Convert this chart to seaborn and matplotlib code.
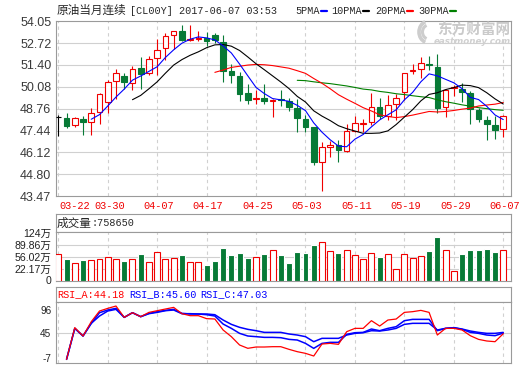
import numpy as np
import pandas as pd
import matplotlib
matplotlib.use("Agg")
import matplotlib.pyplot as plt
from matplotlib.lines import Line2D
from matplotlib.colors import to_rgb
from matplotlib.patches import Arc
import matplotlib.transforms as mtransforms
import seaborn as sns

# ---------------- data ----------------
tick_labels = ["03-22", "03-30", "04-07", "04-17", "04-25",
               "05-03", "05-11", "05-19", "05-29", "06-07"]

open_ = [48.25, 48.19, 47.78, 48.13, 47.98, 48.53, 49.15, 50.42, 50.72, 50.28,
         51.23, 50.93, 51.81, 52.42, 53.18, 53.46, 52.90, 52.98, 53.02, 53.22,
         52.78, 51.04, 50.74, 49.70, 49.32, 49.39, 49.25, 49.36, 49.24, 48.79,
         48.13, 47.66, 45.57, 46.43, 46.57, 46.23, 47.44, 47.86, 47.94, 48.85,
         48.29, 49.03, 49.76, 51.05, 51.15, 51.43, 51.27, 48.85, 50.02, 49.96,
         49.70, 48.65, 48.06, 47.78, 47.52]
high = [48.39, 48.49, 48.27, 48.33, 48.79, 49.68, 50.50, 51.15, 50.91, 51.35,
        51.89, 51.91, 52.96, 53.32, 53.46, 53.83, 53.83, 53.42, 53.38, 53.32,
        53.18, 51.44, 50.97, 50.26, 49.88, 50.26, 49.35, 49.90, 49.40, 49.35,
        48.39, 47.68, 46.77, 46.82, 46.88, 47.84, 48.29, 48.15, 49.70, 49.39,
        49.60, 49.64, 50.93, 51.47, 51.85, 51.95, 52.05, 49.96, 50.16, 50.30,
        49.80, 48.79, 48.29, 48.29, 48.39]
low = [47.08, 47.62, 47.64, 47.14, 47.14, 47.86, 48.47, 49.33, 49.92, 49.90,
       49.92, 50.79, 50.81, 51.71, 52.35, 52.82, 52.82, 52.86, 52.57, 52.72,
       50.39, 50.29, 49.23, 49.07, 49.03, 49.03, 48.28, 48.90, 48.60, 47.38,
       47.38, 45.36, 43.81, 45.87, 45.57, 46.13, 47.38, 47.38, 47.78, 48.15,
       48.09, 48.09, 49.29, 50.85, 50.64, 51.07, 48.47, 48.23, 49.50, 49.19,
       47.84, 47.98, 46.84, 46.92, 47.04]
close = [48.25, 47.74, 48.19, 47.94, 48.47, 49.64, 50.36, 50.91, 50.34, 51.15,
         50.87, 51.77, 52.30, 53.14, 53.46, 52.88, 52.95, 53.02, 52.82, 52.88,
         51.06, 50.80, 49.67, 49.27, 49.38, 49.23, 49.29, 49.26, 48.84, 48.19,
         47.64, 45.57, 46.47, 46.55, 46.27, 47.42, 47.88, 47.90, 48.85, 48.33,
         48.97, 49.39, 50.91, 51.10, 51.51, 51.40, 48.79, 49.86, 50.06, 49.76,
         48.75, 48.13, 47.82, 47.46, 48.33]

volume_wan = [65.8, 49.4, 39.7, 46.5, 48.4, 51.3, 57.1, 51.3, 43.6, 51.3,
              63.9, 42.6, 71.6, 51.3, 54.2, 61.0, 42.6, 42.6, 32.0, 45.5,
              80.4, 61.0, 66.8, 52.3, 56.2, 63.9, 75.5, 61.0, 38.7, 69.7,
              67.8, 91.0, 98.8, 72.6, 67.8, 75.5, 61.0, 51.3, 66.8, 55.2,
              63.9, 22.2, 63.9, 54.2, 58.1, 72.6, 114.3, 75.5, 14.5, 63.9,
              75.5, 75.5, 78.4, 69.7, 75.865]

nan = np.nan
ma5 = [nan] * 4 + [
    48.12, 48.40, 48.92, 49.46, 49.94, 50.48, 50.73, 51.01, 51.29, 51.85,
    52.31, 52.71, 52.95, 53.09, 53.03, 52.91, 52.55, 52.12, 51.45, 50.74,
    50.04, 49.67, 49.37, 49.29, 49.20, 48.96, 48.64, 47.90, 47.34, 46.88,
    46.50, 46.46, 46.92, 47.20, 47.66, 48.08, 48.39, 48.69, 49.29, 49.74,
    50.38, 50.86, 50.74, 50.53, 50.32, 49.97, 49.44, 49.31, 48.90, 48.38,
    48.10]
ma10 = [nan] * 9 + [
    49.30, 49.56, 49.96, 50.38, 50.90, 51.39, 51.72, 51.98, 52.19, 52.44,
    52.61, 52.63, 52.53, 52.27, 51.88, 51.47, 51.11, 50.74, 50.37, 49.97,
    49.50, 49.16, 48.63, 48.31, 48.04, 47.73, 47.55, 47.41, 47.27, 47.27,
    47.29, 47.42, 47.80, 48.25, 48.70, 49.23, 49.62, 49.72, 49.91, 50.03,
    50.18, 50.15, 50.03, 49.72, 49.35, 49.04]
ma20 = [nan] * 19 + [
    50.95, 51.09, 51.25, 51.32, 51.39, 51.43, 51.41, 51.36, 51.28, 51.20,
    51.05, 50.89, 50.58, 50.29, 49.96, 49.60, 49.33, 49.08, 48.82, 48.62,
    48.39, 48.29, 48.22, 48.28, 48.37, 48.48, 48.59, 48.56, 48.59, 48.65,
    48.73, 48.79, 48.92, 48.98, 49.03, 49.13]
ma30 = [nan] * 29 + [
    50.47, 50.45, 50.38, 50.32, 50.27, 50.20, 50.13, 50.04, 49.94, 49.89,
    49.80, 49.74, 49.66, 49.61, 49.54, 49.48, 49.43, 49.29, 49.18, 49.09,
    48.99, 48.91, 48.82, 48.76, 48.70, 48.66]

rsi_a = [nan, -10.8, 57.2, 39.3, 70.0, 92.9, 98.6, 103.6, 79.3, 89.3,
         80.8, 90.0, 93.6, 97.2, 100.7, 87.2, 82.9, 82.9, 76.5, 75.8,
         52.2, 37.9, 20.0, 12.9, 15.7, 15.7, 16.4, 16.4, 10.7, 5.7,
         2.1, -3.6, 22.1, 23.5, 21.4, 48.6, 55.7, 55.7, 72.2, 60.7,
         73.6, 75.7, 90.0, 91.5, 94.3, 90.0, 41.4, 55.7, 55.7, 52.2,
         40.0, 32.1, 28.6, 27.1, 44.18]
rsi_b = [nan, -10.8, 55.7, 39.3, 66.5, 89.3, 95.1, 98.6, 79.3, 89.3,
         80.8, 87.9, 91.5, 94.3, 96.5, 87.9, 86.5, 86.5, 85.0, 82.2,
         65.0, 55.7, 45.0, 39.3, 37.9, 36.4, 36.4, 35.7, 32.1, 30.7,
         23.5, 12.8, 23.5, 25.7, 25.7, 42.9, 46.4, 47.1, 54.3, 50.7,
         55.7, 59.3, 72.2, 75.0, 75.0, 75.0, 50.7, 55.7, 57.2, 53.6,
         47.1, 45.0, 41.4, 40.0, 45.60]
rsi_c = [nan, -10.8, 55.7, 39.3, 66.5, 82.2, 92.9, 96.5, 79.3, 89.3,
         80.8, 87.2, 90.0, 93.6, 95.1, 87.2, 87.2, 86.5, 86.5, 85.0,
         73.6, 64.3, 57.9, 53.6, 50.7, 47.1, 47.1, 47.1, 43.6, 41.4,
         37.9, 27.1, 34.3, 34.3, 34.3, 41.4, 45.0, 46.4, 50.7, 50.0,
         52.2, 55.7, 64.3, 66.5, 66.5, 66.5, 52.2, 55.7, 57.2, 54.3,
         50.0, 47.1, 45.0, 45.0, 47.03]

price_ticks = [54.05, 52.72, 51.40, 50.08, 48.76, 47.44, 46.12, 44.80, 43.47]
vol_tick_vals = [124, 89.86, 56.02, 22.17, -11.68]
vol_tick_text = ["124万", "89.86万", "56.02万", "22.17万", "0"]
rsi_ticks = [96, 45, -7]

# ---------------- style ----------------
sns.set_style("white")
plt.rcParams["font.family"] = ["Liberation Sans", "Noto Sans CJK SC", "DejaVu Sans"]
plt.rcParams["axes.unicode_minus"] = False

RED = "#f00000"
GREEN = "#077a36"
FRAME = "#9a9a9a"
GRID = "#d0d0d0"
MONO = ["Liberation Mono", "DejaVu Sans Mono"]
CJK = ["Noto Sans CJK SC"]

W, H = 520, 365
def fx(x): return x / W
def fy(y): return 1 - y / H
def rect(x0, y0, x1, y1):
    return [fx(x0), fy(y1), fx(x1) - fx(x0), fy(y0) - fy(y1)]

n = len(close)
idx = np.arange(n)
o = np.array(open_); c = np.array(close)
hi = np.array(high); lo = np.array(low)
XLIM = (-0.34, 54.94)
grid_pos = list(range(0, n, 6))

fig = plt.figure(figsize=(5.2, 3.65), dpi=100)
fig.patch.set_facecolor("white")

def frame(ax):
    for s in ax.spines.values():
        s.set_color(FRAME)
        s.set_linewidth(0.8)
        s.set_visible(True)

def vgrid(ax):
    ax.set_xticks(grid_pos)
    ax.set_xticklabels([])
    ax.tick_params(axis="x", length=0)
    for xg in grid_pos:
        ax.axvline(xg, color=GRID, lw=0.8, ls=(0, (3, 3)), zorder=1)

# ---------------- main price panel ----------------
ax = fig.add_axes(rect(55.5, 21.0, 511, 196.3))
frame(ax)
ax.set_xlim(*XLIM)
ax.set_ylim(43.47, 54.05)
ax.set_yticks(price_ticks)
ax.set_yticklabels([f"{v:.2f}" for v in price_ticks])
ax.tick_params(axis="y", length=0, pad=3, labelsize=9, labelcolor="#3a3a3a")
for yv in price_ticks[1:-1]:
    ax.axhline(yv, color=GRID, lw=0.8, zorder=1)
vgrid(ax)

cols = np.where(c > o, RED, np.where(c < o, GREEN, "black"))
faces = np.where(c > o, "white", np.where(c < o, GREEN, "black"))
ax.vlines(idx, lo, hi, colors=cols, lw=0.8, zorder=2)
ax.bar(idx, np.abs(c - o), bottom=np.minimum(o, c), width=0.68,
       facecolor=faces, edgecolor=cols, lw=0.8, zorder=3)

ma_df = pd.DataFrame({"idx": idx, "5PMA": ma5, "10PMA": ma10,
                      "20PMA": ma20, "30PMA": ma30})
ma_colors = {"5PMA": "#0000ff", "10PMA": "black", "20PMA": "#ff0000", "30PMA": "#008000"}
for name in ["30PMA", "20PMA", "10PMA", "5PMA"]:
    sns.lineplot(data=ma_df, x="idx", y=name, color=ma_colors[name], lw=0.8,
                 ax=ax, zorder=4)
ax.set_xlabel(""); ax.set_ylabel("")

# date labels
trans = mtransforms.blended_transform_factory(ax.transData, fig.transFigure)
for k, (pos, lab) in enumerate(zip(grid_pos, tick_labels)):
    if k == 0:
        ax.text(pos + 0.14, fy(206), lab, transform=trans, ha="left", va="center",
                color=RED, family=MONO, fontsize=7.4)
    else:
        ax.text(pos + 0.18, fy(206), lab, transform=trans, ha="center", va="center",
                color=RED, family=MONO, fontsize=7.4)

# ---------------- volume panel ----------------
VOL_FLOOR = vol_tick_vals[-1]
axvh = fig.add_axes(rect(55.5, 214, 511, 232.3))
frame(axvh); axvh.set_xticks([]); axvh.set_yticks([])
axv = fig.add_axes(rect(55.5, 232.3, 511, 280.5))
frame(axv)
vol_df = pd.DataFrame({"idx": idx, "vol": volume_wan,
                       "dir": np.where(c < o, "down", "up")})
vol_df["bar_h"] = vol_df["vol"] - VOL_FLOOR
sns.barplot(data=vol_df, x="idx", y="bar_h", hue="dir",
            palette={"up": RED, "down": GREEN}, saturation=1, native_scale=True,
            width=0.72, legend=False, errorbar=None, ax=axv, bottom=VOL_FLOOR,
            linewidth=0.8, zorder=3)
red_rgb = to_rgb(RED)
for p in axv.patches:
    if np.allclose(p.get_facecolor()[:3], red_rgb, atol=0.05):
        p.set_facecolor("white")
        p.set_edgecolor(RED)
axv.set_xlim(*XLIM)
axv.set_ylim(VOL_FLOOR, 126.9)
axv.set_yticks(vol_tick_vals)
axv.set_yticklabels(vol_tick_text)
axv.tick_params(axis="y", length=0, pad=3, labelsize=7.6, labelcolor="#222222")
for yv in vol_tick_vals[1:-1]:
    axv.axhline(yv, color=GRID, lw=0.8, zorder=1)
vgrid(axv)
axv.set_xlabel(""); axv.set_ylabel("")

# ---------------- RSI panel ----------------
axrh = fig.add_axes(rect(55.5, 287.3, 511, 301.7))
frame(axrh); axrh.set_xticks([]); axrh.set_yticks([])
axr = fig.add_axes(rect(55.5, 301.7, 511, 363))
frame(axr)
rsi_df = pd.DataFrame({"idx": idx, "RSI_A": rsi_a, "RSI_B": rsi_b, "RSI_C": rsi_c})
for name, col, lw in [("RSI_C", "#0000ff", 1.1), ("RSI_B", "#0000ff", 1.1),
                      ("RSI_A", "#ff0000", 0.9)]:
    sns.lineplot(data=rsi_df, x="idx", y=name, color=col, lw=lw, ax=axr, zorder=4)
axr.set_xlim(*XLIM)
axr.set_ylim(-18.6, 112.9)
axr.set_yticks(rsi_ticks)
axr.tick_params(axis="y", length=0, pad=3, labelsize=7.2, labelcolor="#222222")
axr.axhline(rsi_ticks[1], color=GRID, lw=0.8, zorder=1)
vgrid(axr)
axr.set_xlabel(""); axr.set_ylabel("")

# ---------------- header texts ----------------
fig.text(fx(56.5), fy(10.5), "原油当月连续", family=CJK, fontsize=8.4, va="center", ha="left")
fig.text(fx(129.5), fy(10.5), "[CL00Y] 2017-06-07 03:53", family=MONO, fontsize=7.3,
         va="center", ha="left")
legend_items = [("5PMA", 295, "#0000ff"), ("10PMA", 331, "black"),
                ("20PMA", 375, "#ff0000"), ("30PMA", 418, "#008000")]
for lab, x0, col in legend_items:
    fig.text(fx(x0), fy(10.5), lab, family=MONO, fontsize=7.3, va="center", ha="left")
    x1 = x0 + 6.05 * len(lab) + 1.5
    fig.add_artist(Line2D([fx(x1), fx(x1 + 6)], [fy(11), fy(11)], color=col, lw=1.6,
                          transform=fig.transFigure))

fig.text(fx(56.5), fy(223), "成交量", family=CJK, fontsize=8.4, va="center", ha="left")
fig.text(fx(92), fy(223), ":758650", family=MONO, fontsize=7.3, va="center", ha="left")

fig.text(fx(57), fy(294.5), "RSI_A:44.18", family=MONO, fontsize=7.3, va="center",
         ha="left", color="#ff0000")
fig.text(fx(129), fy(294.5), "RSI_B:45.60", family=MONO, fontsize=7.3, va="center",
         ha="left", color="#0000ff")
fig.text(fx(200.5), fy(294.5), "RSI_C:47.03", family=MONO, fontsize=7.3, va="center",
         ha="left", color="#0000ff")

# watermark (logo swoosh + text)
logo_ax = fig.add_axes(rect(412, 20, 438, 44))
logo_ax.set_xlim(0, 26); logo_ax.set_ylim(24, 0); logo_ax.axis("off")
for r, lw in [(10, 2.6), (6.5, 2.2)]:
    logo_ax.add_patch(Arc((17, 12), 2 * r, 2 * r * 1.1, theta1=110, theta2=250,
                          color="#cdcdcd", lw=lw))
fig.text(fx(437), fy(30), "东方财富网", family=CJK, fontsize=10.5, fontweight="bold",
         color="#cacaca", va="center", ha="left")
fig.text(fx(434), fy(41.5), "eastmoney.com", family=["DejaVu Sans"], fontsize=6.3,
         fontweight="bold", style="italic", color="#d0d0d0", va="center", ha="left")

fig.savefig("out.png", dpi=100, facecolor="white")
